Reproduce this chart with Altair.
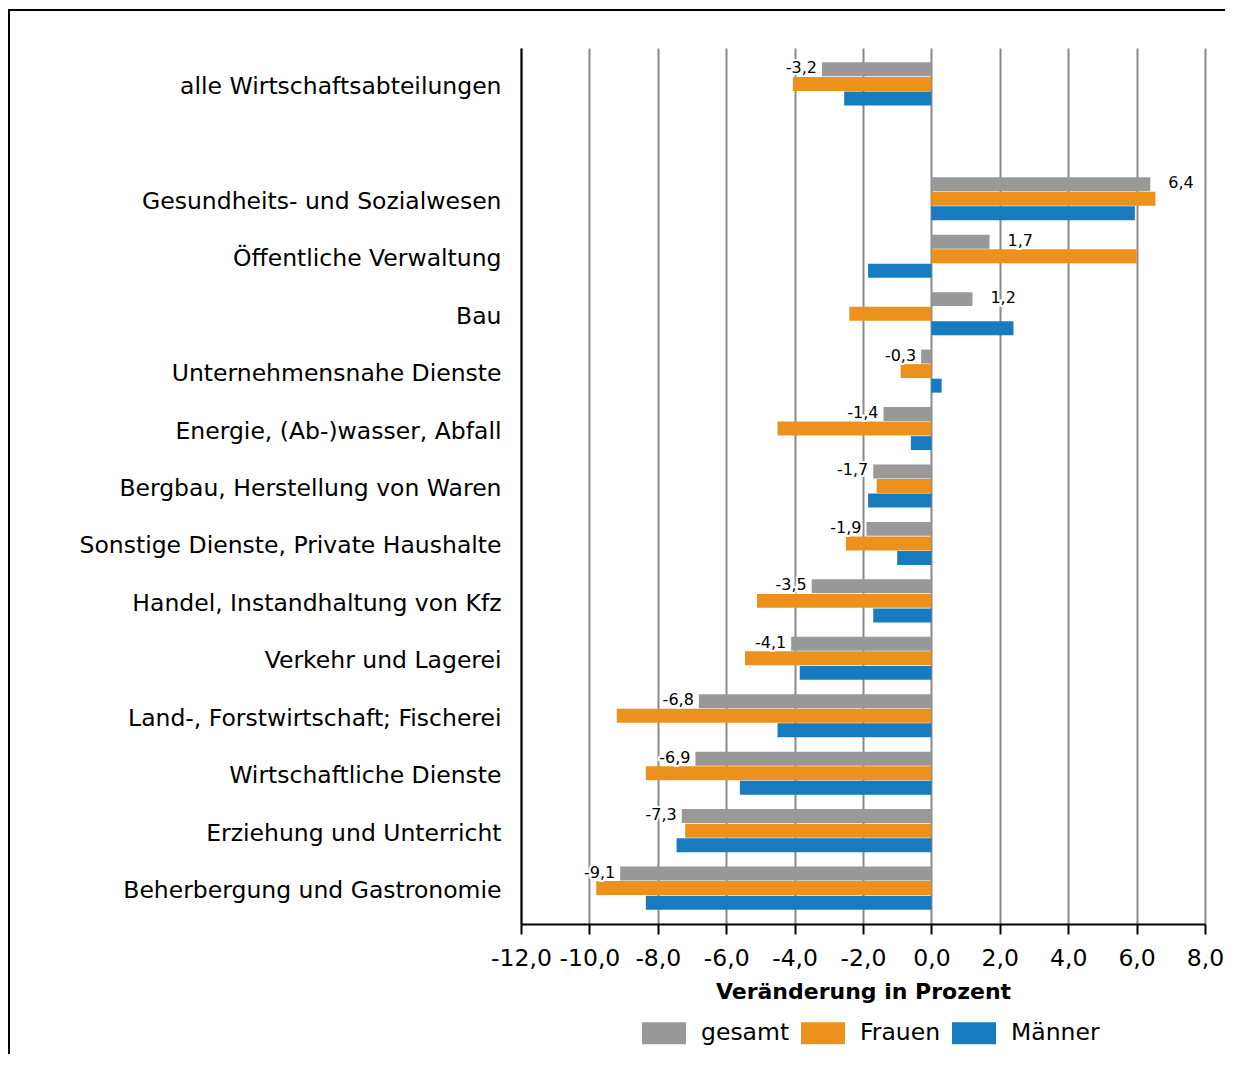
import altair as alt
import pandas as pd

GAP = " "
categories = [
    "alle Wirtschaftsabteilungen", GAP,
    "Gesundheits- und Sozialwesen", "Öffentliche Verwaltung", "Bau",
    "Unternehmensnahe Dienste", "Energie, (Ab-)wasser, Abfall",
    "Bergbau, Herstellung von Waren", "Sonstige Dienste, Private Haushalte",
    "Handel, Instandhaltung von Kfz", "Verkehr und Lagerei",
    "Land-, Forstwirtschaft; Fischerei", "Wirtschaftliche Dienste",
    "Erziehung und Unterricht", "Beherbergung und Gastronomie",
]
bar_categories = [c for c in categories if c != GAP]

series = ["gesamt", "Frauen", "Männer"]
colors = ["#999999", "#EC921C", "#167BBF"]

gesamt = [-3.2, 6.4, 1.7, 1.2, -0.3, -1.4, -1.7, -1.9, -3.5, -4.1, -6.8, -6.9, -7.3, -9.1]
frauen = [-4.05, 6.55, 6.0, -2.4, -0.9, -4.5, -1.6, -2.5, -5.1, -5.45, -9.2, -8.35, -7.2, -9.8]
maenner = [-2.55, 5.95, -1.85, 2.4, 0.3, -0.6, -1.85, -1.0, -1.7, -3.85, -4.5, -5.6, -7.45, -8.35]
gesamt_labels = ["-3,2", "6,4", "1,7", "1,2", "-0,3", "-1,4", "-1,7", "-1,9",
                 "-3,5", "-4,1", "-6,8", "-6,9", "-7,3", "-9,1"]

x_ticks = [-12, -10, -8, -6, -4, -2, 0, 2, 4, 6, 8]

rows = []
for s, vals in zip(series, [gesamt, frauen, maenner]):
    for c, v in zip(bar_categories, vals):
        rows.append({"Kategorie": c, "Gruppe": s, "Wert": v})
df = pd.DataFrame(rows)

lab = pd.DataFrame({"Kategorie": bar_categories, "Wert": gesamt,
                    "Gruppe": ["gesamt"] * len(gesamt), "Label": gesamt_labels})

FONT = "DejaVu Sans"
FS = 23.5

y_enc = alt.Y("Kategorie:N", sort=categories,
              scale=alt.Scale(domain=categories, paddingInner=0.25, paddingOuter=0.25),
              axis=alt.Axis(title=None, ticks=False, grid=False, domain=True,
                            domainColor="black", domainWidth=2,
                            labelFont=FONT, labelFontSize=FS, labelColor="black",
                            labelPadding=20, labelLimit=600, labelOffset=3))
yoff_enc = alt.YOffset("Gruppe:N", sort=series, scale=alt.Scale(domain=series, paddingInner=0.04))
x_enc = alt.X("Wert:Q",
              scale=alt.Scale(domain=[-12, 8], nice=False, zero=False),
              axis=alt.Axis(values=x_ticks, title="Veränderung in Prozent",
                            labelExpr="replace(replace(format(datum.value, '.1f'), '.', ','), '\u2212', '-')",
                            labelOverlap=False, labelFlush=False,
                            grid=True, gridColor="#8a8a8a", gridWidth=2,
                            domainColor="black", domainWidth=2,
                            tickColor="black", tickWidth=2, tickSize=10,
                            labelFont=FONT, labelFontSize=FS, labelColor="black",
                            labelPadding=12, titleFont=FONT, titleFontSize=22,
                            titleFontWeight="bold", titleColor="black", titlePadding=12))

bars = alt.Chart(df).mark_bar().encode(
    x=x_enc,
    y=y_enc,
    yOffset=yoff_enc,
    color=alt.Color("Gruppe:N", sort=series,
                    scale=alt.Scale(domain=series, range=colors),
                    legend=alt.Legend(title=None, orient="none", direction="horizontal",
                                      legendX=121, legendY=963, padding=0,
                                      symbolType="M-1,-0.5L1,-0.5L1,0.5L-1,0.5Z",
                                      symbolSize=1936, symbolStrokeWidth=0,
                                      labelFont=FONT, labelFontSize=FS, labelColor="black",
                                      labelOffset=15, columnPadding=11)),
)


def label_layer(cond, align, dx, halo):
    kw = dict(align=align, baseline="middle", dx=dx, dy=-1, font=FONT, fontSize=16)
    if halo:
        kw.update(color="white", stroke="white", strokeWidth=4)
    else:
        kw.update(color="black")
    return alt.Chart(lab).transform_filter(cond).mark_text(**kw).encode(
        x="Wert:Q", y=alt.Y("Kategorie:N", sort=categories),
        yOffset=alt.YOffset("Gruppe:N", sort=series), text="Label:N")


neg_halo = label_layer("datum.Wert < 0", "right", -5, True)
pos_halo = label_layer("datum.Wert > 0", "left", 18, True)
neg = label_layer("datum.Wert < 0", "right", -5, False)
pos = label_layer("datum.Wert > 0", "left", 18, False)

frame_src = pd.DataFrame({"k": [0]})
frame_top = alt.Chart(frame_src).mark_rule(color="black", strokeWidth=2).encode(
    x=alt.value(-513), x2=alt.value(800), y=alt.value(-38))
frame_left = alt.Chart(frame_src).mark_rule(color="black", strokeWidth=2).encode(
    x=alt.value(-512), y=alt.value(-38), y2=alt.value(1100))

chart = alt.layer(bars, neg_halo, pos_halo, neg, pos, frame_top, frame_left).properties(
    width=684, height=876,
    autosize=alt.AutoSizeParams(type="none"),
    padding={"left": 513, "top": 40, "right": 20, "bottom": 130},
).configure_view(stroke=None)

chart.save("out.html", embed_options={"renderer": "svg", "actions": False})
